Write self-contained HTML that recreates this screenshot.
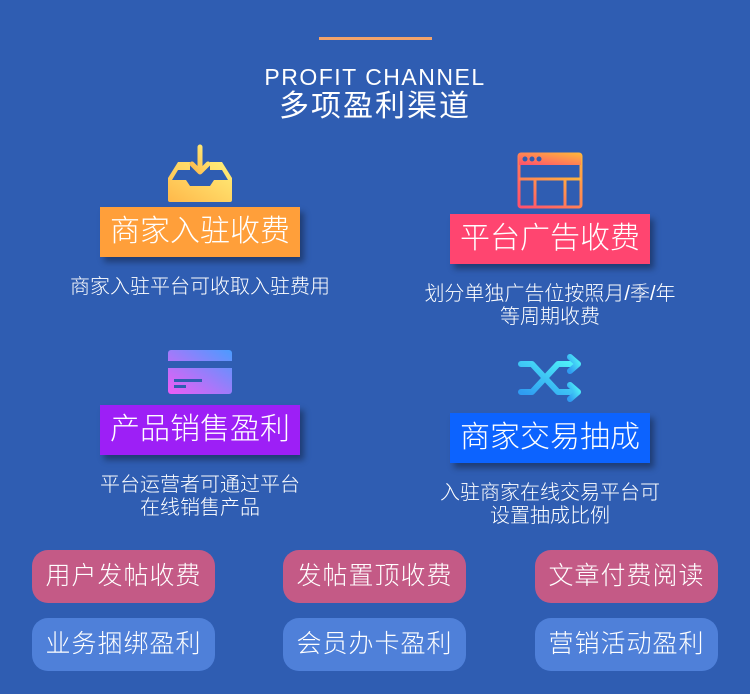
<!DOCTYPE html>
<html><head><meta charset="utf-8"><style>
*{margin:0;padding:0;box-sizing:border-box}
body{width:750px;height:694px;background:#2f5db2;position:relative;overflow:hidden;font-family:"Liberation Sans","Noto Sans CJK SC",sans-serif;color:#fff}
.a{position:absolute}
.box{position:absolute;width:200px;height:50px;font-size:30px;line-height:50px;text-align:center;box-shadow:4px 5px 6px rgba(0,0,0,.35);font-weight:300}
.d{position:absolute;width:340px;text-align:center;font-size:20px;line-height:23px;font-weight:300}
.p{position:absolute;width:183px;height:53px;border-radius:16px;font-size:25px;line-height:53px;text-align:center;letter-spacing:1px;font-weight:300}
.r{background:#c45a86}.b{background:#4f80d9}
</style></head><body>
<div class="a" style="left:319px;top:37px;width:113px;height:3px;background:#f3a36a"></div>
<div class="a" style="left:0;width:750px;top:63px;text-align:center;font-size:23px;letter-spacing:1.5px;font-weight:300;line-height:28px">PROFIT CHANNEL</div>
<div class="a" style="left:0;width:750px;top:90px;text-align:center;font-size:30px;letter-spacing:2px;line-height:34px">多项盈利渠道</div>

<svg class="a" style="left:0;top:0" width="750" height="694">
<defs>
<linearGradient id="g1" x1="0" y1="1" x2="1" y2="0"><stop offset="0" stop-color="#ffb84a"/><stop offset="1" stop-color="#fff07a"/></linearGradient>
<linearGradient id="g2" x1="0" y1="1" x2="1" y2="0"><stop offset="0" stop-color="#ff4f6e"/><stop offset="1" stop-color="#ffb43c"/></linearGradient>
<linearGradient id="g3" x1="0" y1="1" x2="1" y2="0"><stop offset="0" stop-color="#ef5cf5"/><stop offset="1" stop-color="#4a9cff"/></linearGradient>
<linearGradient id="g4" x1="0" y1="1" x2="1" y2="0"><stop offset="0" stop-color="#2f9cf2"/><stop offset="1" stop-color="#4ff2f8"/></linearGradient>
</defs>
<path d="M178 162 H190 V170 H178 L172 180 H186 L190 186 H210 L214 180 H228 L222 170 H210 V162 H222 L232 178 V200 Q232 202 230 202 H170 Q168 202 168 200 V178 Z" fill="url(#g1)"/>
<path d="M200 147 V172 M192 164 L200 172 L208 164" stroke="url(#g1)" stroke-width="5" fill="none" stroke-linecap="round" stroke-linejoin="round"/>
<rect x="519" y="154" width="62" height="53" rx="2" fill="none" stroke="url(#g2)" stroke-width="3"/>
<rect x="519" y="154" width="62" height="11" fill="url(#g2)"/>
<circle cx="525" cy="159" r="2.5" fill="#2f5db2"/><circle cx="532" cy="159" r="2.5" fill="#2f5db2"/><circle cx="539" cy="159" r="2.5" fill="#2f5db2"/>
<path d="M519 179 H581 M535 179 V207 M565 179 V207" stroke="url(#g2)" stroke-width="3"/>
<rect x="168" y="350" width="64" height="44" rx="3" fill="url(#g3)"/>
<rect x="168" y="361" width="64" height="7" fill="#2f5db2"/>
<rect x="174" y="379" width="28" height="3" fill="#2f5db2"/><rect x="174" y="385" width="12" height="3" fill="#2f5db2"/>
<g stroke="url(#g4)" stroke-width="6" fill="none" stroke-linecap="round" stroke-linejoin="round">
<path d="M521 364 H532 L558 392 H576"/>
<path d="M521 392 H532 L558 364 H576"/>
<path d="M570 357 L578 364 L570 371"/>
<path d="M570 385 L578 392 L570 399"/>
</g>
</svg>

<div class="box" style="left:100px;top:207px;background:#ff9f3a">商家入驻收费</div>
<div class="box" style="left:450px;top:214px;background:#ff4570">平台广告收费</div>
<div class="box" style="left:100px;top:405px;background:#9d1ff6">产品销售盈利</div>
<div class="box" style="left:450px;top:413px;background:#0c63ff">商家交易抽成</div>

<div class="d" style="left:30px;top:276px">商家入驻平台可收取入驻费用</div>
<div class="d" style="left:380px;top:283px">划分单独广告位按照月/季/年<br>等周期收费</div>
<div class="d" style="left:30px;top:474px">平台运营者可通过平台<br>在线销售产品</div>
<div class="d" style="left:380px;top:482px">入驻商家在线交易平台可<br>设置抽成比例</div>

<div class="p r" style="left:32px;top:550px">用户发帖收费</div>
<div class="p r" style="left:283px;top:550px">发帖置顶收费</div>
<div class="p r" style="left:535px;top:550px">文章付费阅读</div>
<div class="p b" style="left:32px;top:618px">业务捆绑盈利</div>
<div class="p b" style="left:283px;top:618px">会员办卡盈利</div>
<div class="p b" style="left:535px;top:618px">营销活动盈利</div>
</body></html>
